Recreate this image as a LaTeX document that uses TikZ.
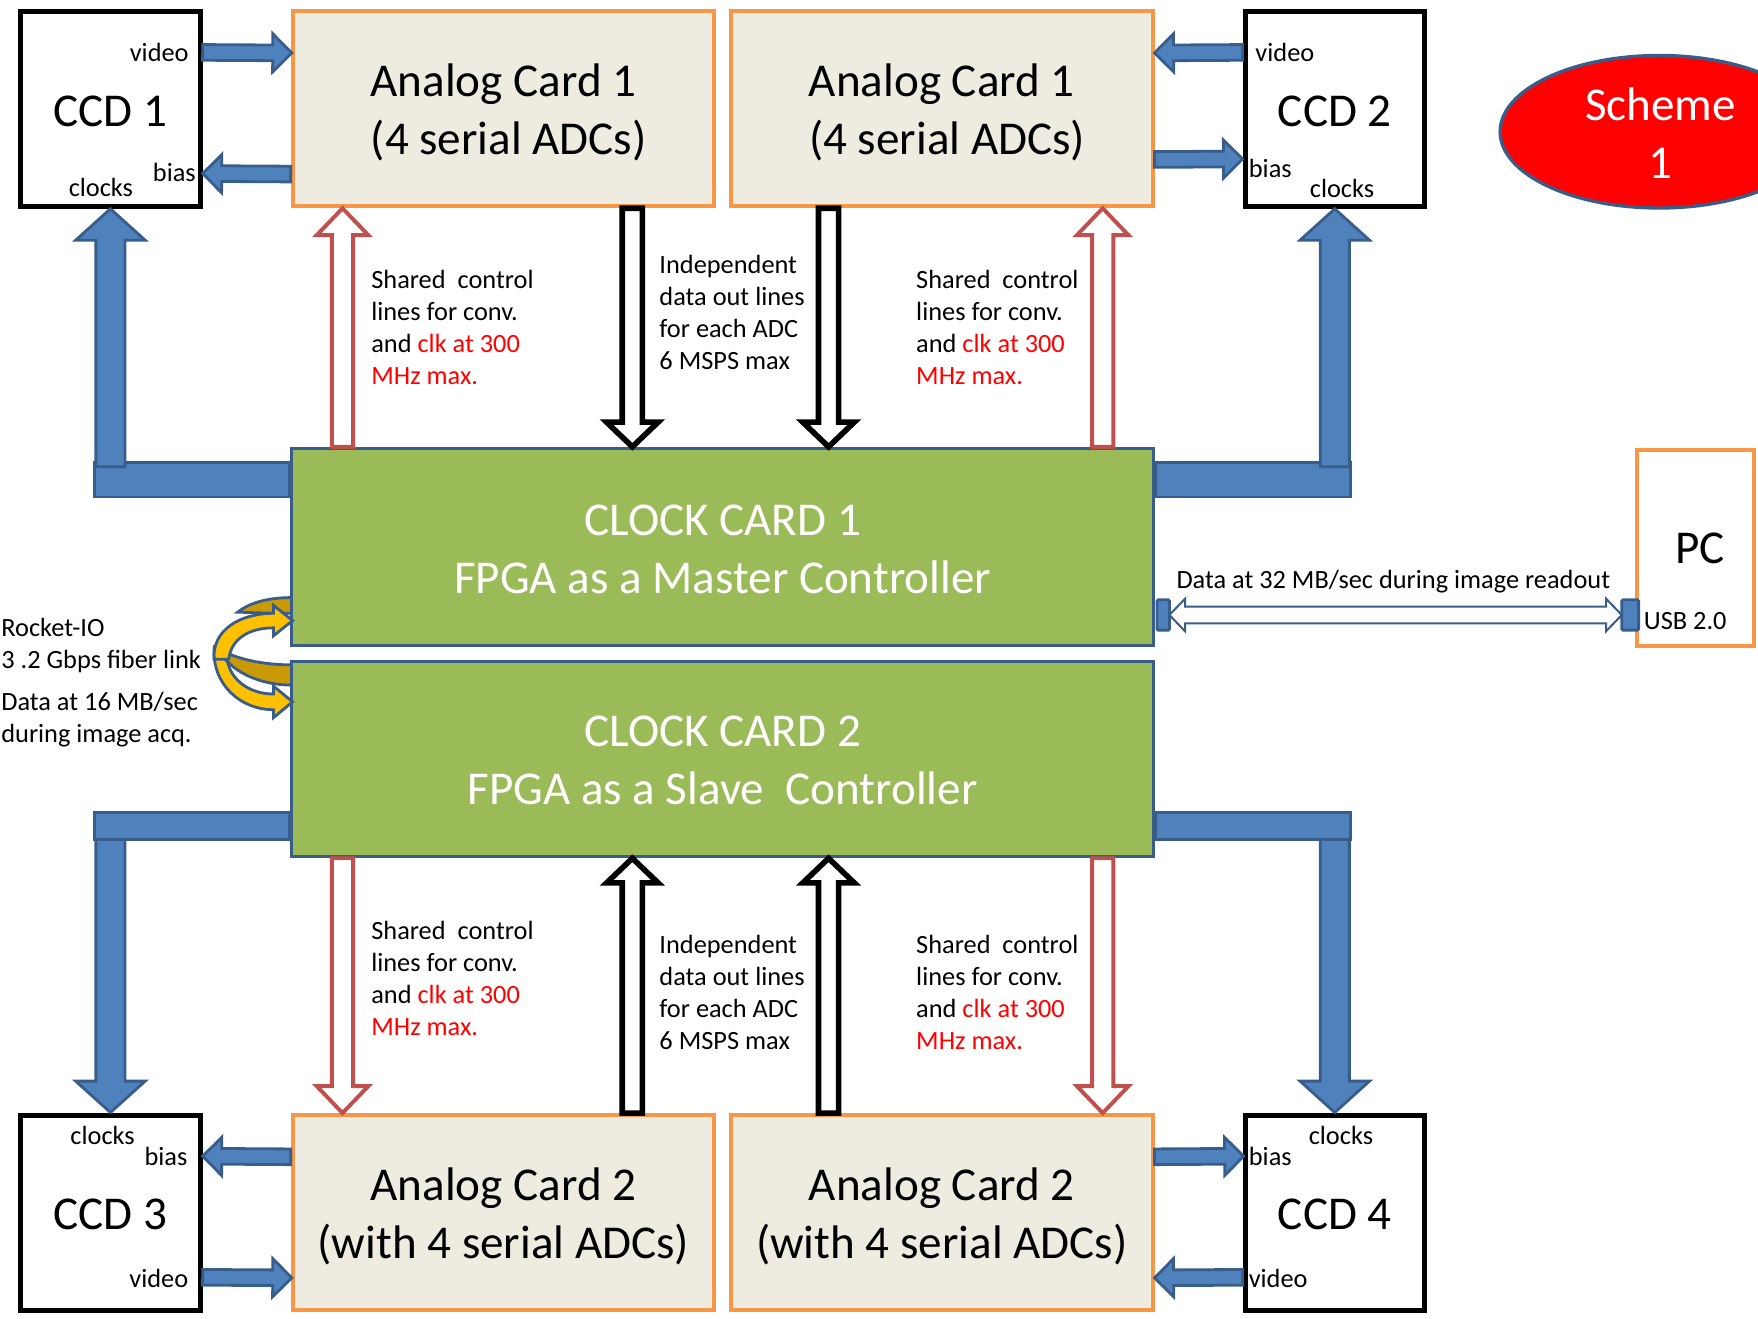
\documentclass[tikz,border=0pt]{standalone}
\usepackage{fontspec}
\setmainfont{Carlito}
\usetikzlibrary{calc,backgrounds}
\definecolor{bfill}{HTML}{4F81BD}
\definecolor{bline}{HTML}{385D8A}
\definecolor{gfill}{HTML}{9BBB59}
\definecolor{beige}{HTML}{EEECE1}
\definecolor{orng}{HTML}{F79646}
\definecolor{rline}{HTML}{C0504D}
\definecolor{yel}{HTML}{FFC000}
\definecolor{gold}{HTML}{C99A06}
\definecolor{tred}{HTML}{FF0000}
\newcommand\bigf{\fontsize{42}{52}\selectfont}
\newcommand\smf{\fontsize{23.5}{28.4}\selectfont}
% #1 style, #2 start, #3 end, #4 half shaft, #5 half head, #6 head length
\newcommand\blockarrow[6]{%
  \path #2 coordinate (baS) #3 coordinate (baE);
  \path ($(baE)!#6pt!(baS)$) coordinate (baB);
  \draw[#1] ($(baS)!#4pt!90:(baE)$) -- ($(baB)!#4pt!-90:(baS)$) -- ($(baB)!#5pt!-90:(baS)$) -- (baE)
     -- ($(baB)!#5pt!90:(baS)$) -- ($(baB)!#4pt!90:(baS)$) -- ($(baS)!#4pt!-90:(baE)$) -- cycle;
}
\begin{document}
\begin{tikzpicture}[x=1pt,y=-1pt,line join=miter,
  ccdbox/.style={draw=black,line width=4.5pt,fill=white,minimum width=160pt,minimum height=174pt,inner sep=0pt},
  anbox/.style={draw=orng,line width=3.5pt,fill=beige,minimum width=376pt,minimum height=174pt,inner sep=0pt},
  clkbox/.style={draw=bline,line width=3pt,fill=gfill,minimum width=769pt,inner sep=0pt},
  bigtxt/.style={inner sep=0pt,align=center,font=\bigf},
  lbl/.style={inner sep=0pt,font=\smf},
  note/.style={inner sep=0pt,font=\smf,align=left,anchor=west},
  bluebar/.style={draw=bline,fill=bfill,line width=2.5pt},
  redhollow/.style={draw=rline,fill=white,line width=3.5pt},
  blackhollow/.style={draw=black,fill=white,line width=5pt},
  usbsq/.style={draw=bline,fill=bfill,line width=2.5pt,minimum height=27pt,inner sep=0pt,rounded corners=1pt},
  rocket/.style={draw=bline,fill=yel,line width=2.5pt},
  rocketback/.style={draw=bline,fill=gold,line width=2.5pt}]
\useasboundingbox (0,0) rectangle (1568,1176);
\clip (0,0) rectangle (1568,1176);

% ---------- boxes ----------
\node[ccdbox] (ccd1) at (98.5,97) {};
\node[anbox] (ac1l) at (449,97) {};
\node[anbox] (ac1r) at (840,97) {};
\node[ccdbox] (ccd2) at (1190.5,97) {};
\node[clkbox,minimum height=176pt] (cc1) at (644.5,488) {};
\node[clkbox,minimum height=174pt] (cc2) at (644.5,677) {};
\node[ccdbox] (ccd3) at (98.5,1081.5) {};
\node[anbox] (ac2l) at (449,1081.5) {};
\node[anbox] (ac2r) at (840,1081.5) {};
\node[ccdbox] (ccd4) at (1190.5,1081.5) {};

\node[bigtxt] (ccd1t) at ($(ccd1)+(0,2)$) {CCD 1};
\node[bigtxt] (ccd2t) at ($(ccd2)+(0,2)$) {CCD 2};
\node[bigtxt] (ccd3t) at ($(ccd3)+(0,2)$) {CCD 3};
\node[bigtxt] (ccd4t) at ($(ccd4)+(0,2)$) {CCD 4};
\node[bigtxt] (ac1lt) at ($(ac1l)+(0,3)$) {Analog Card 1\\\hspace*{9.5pt}(4 serial ADCs)};
\node[bigtxt] (ac1rt) at ($(ac1r)+(0,3)$) {Analog Card 1\\\hspace*{9.5pt}(4 serial ADCs)};
\node[bigtxt] (ac2lt) at ($(ac2l)+(0,3.5)$) {Analog Card 2\\(with 4 serial ADCs)};
\node[bigtxt] (ac2rt) at ($(ac2r)+(0,3.5)$) {Analog Card 2\\(with 4 serial ADCs)};
\node[bigtxt,text=white] (cc1t) at ($(cc1)+(0,2)$) {CLOCK CARD 1\\FPGA as a Master Controller};
\node[bigtxt,text=white] (cc2t) at ($(cc2)+(0,1.5)$) {CLOCK CARD 2\\FPGA as a Slave\ \ Controller};

\node[draw=orng,line width=3.5pt,fill=white,minimum width=104pt,minimum height=175pt,inner sep=0pt] (pc) at (1512,488.5) {};
\node[bigtxt] (pct) at (1516,489) {PC};
\node[lbl,anchor=west] (usbt) at (1466,554) {USB 2.0};

\draw[draw=bline,fill=tred,line width=3pt] (1480,117.5) ellipse [x radius=142, y radius=68];
\node[bigtxt,text=white] (scheme) at (1481,119) {Scheme\\1};

% ---------- blue buses (behind the cards) ----------
\begin{pgfonlayer}{background}
\draw[bluebar] ($(cc1.north west)+(0,14)$) rectangle ($(ccd1.south)+(-14,257)$);
\draw[bluebar] ($(cc1.north east)+(0,14)$) rectangle ($(ccd2.south)+(14,257)$);
\draw[bluebar] ($(cc2.south west)+(0,-41)$) rectangle ($(ccd3.north)+(-14,-243.5)$);
\draw[bluebar] ($(cc2.south east)+(0,-41)$) rectangle ($(ccd4.north)+(14,-243.5)$);
\end{pgfonlayer}
\blockarrow{bluebar}{($(ccd1.south)+(0,230)$)}{(ccd1.south)}{13}{31}{28}
\blockarrow{bluebar}{($(ccd2.south)+(0,230)$)}{(ccd2.south)}{13}{31}{28}
\blockarrow{bluebar}{($(ccd3.north)+(0,-243.5)$)}{(ccd3.north)}{13}{31}{28}
\blockarrow{bluebar}{($(ccd4.north)+(0,-243.5)$)}{(ccd4.north)}{13}{31}{28}

% ---------- video / bias arrows ----------
\blockarrow{bluebar}{($(ccd1.north east)+(0,39)$)}{($(ac1l.north west)+(1,39)$)}{7}{17}{17}
\blockarrow{bluebar}{($(ac1l.north west)+(0,147)$)}{($(ccd1.north east)+(0,147)$)}{7}{17}{17}
\blockarrow{bluebar}{($(ccd2.north west)+(0,39)$)}{($(ac1r.north east)+(0,39)$)}{7}{17}{17}
\blockarrow{bluebar}{($(ac1r.north east)+(0,134)$)}{($(ccd2.north west)+(0,134)$)}{7}{17}{17}
\blockarrow{bluebar}{($(ac2l.north west)+(0,39)$)}{($(ccd3.north east)+(0,39)$)}{7}{17}{17}
\blockarrow{bluebar}{($(ccd3.north east)+(0,147)$)}{($(ac2l.north west)+(1,147)$)}{7}{17}{17}
\blockarrow{bluebar}{($(ac2r.north east)+(0,39)$)}{($(ccd4.north west)+(1,39)$)}{7}{17}{17}
\blockarrow{bluebar}{($(ccd4.north west)+(0,147)$)}{($(ac2r.north east)+(0,147)$)}{7}{17}{17}

% ---------- shared control (red) and data out (black) ----------
\coordinate (r1) at ($(cc1.north west)+(47,0)$);
\coordinate (r2) at ($(cc1.north east)+(-47,0)$);
\coordinate (r3) at ($(cc2.south west)+(47,0)$);
\coordinate (r4) at ($(cc2.south east)+(-47,0)$);
\coordinate (b1) at ($(cc1.north)+(-80.5,0)$);
\coordinate (b2) at ($(cc1.north)+(94.5,0)$);
\coordinate (b3) at ($(cc2.south)+(-80.5,0)$);
\coordinate (b4) at ($(cc2.south)+(94.5,0)$);
\blockarrow{redhollow}{(r1)}{(r1 |- ac1l.south)}{9.5}{23}{24}
\blockarrow{redhollow}{(r2)}{(r2 |- ac1r.south)}{9.5}{23}{24}
\blockarrow{redhollow}{(r3)}{(r3 |- ac2l.north)}{9.5}{23}{24}
\blockarrow{redhollow}{(r4)}{(r4 |- ac2r.north)}{9.5}{23}{24}
\blockarrow{blackhollow}{(b1 |- ac1l.south)}{(b1)}{9}{23}{22}
\blockarrow{blackhollow}{(b2 |- ac1r.south)}{(b2)}{9}{23}{22}
\blockarrow{blackhollow}{(b3 |- ac2l.north)}{(b3)}{9}{23}{22}
\blockarrow{blackhollow}{(b4 |- ac2r.north)}{(b4)}{9}{23}{22}

% ---------- USB link ----------
\coordinate (usbAc) at (1037.5,548.5);
\coordinate (usbBc) at (1454,548.5);
\draw[draw=bline,fill=white,line width=1.8pt] ($(usbAc)+(5.5,0)$) -- ++(14,-14.5) -- ++(0,7) -- ($(usbBc)+(-21.5,-7.5)$) -- ++(0,-7)
  -- ($(usbBc)+(-7.5,0)$) -- ++(-14,14.5) -- ++(0,-7) -- ($(usbAc)+(19.5,7.5)$) -- ++(0,7) -- cycle;
\node[usbsq,minimum width=11pt] (usbA) at (usbAc) {};
\node[usbsq,minimum width=15pt] (usbB) at (usbBc) {};
\node[lbl] (d32) at (1242.7,519) {Data at 32 MB/sec during image readout};

% ---------- Rocket-IO link ----------
\draw[rocketback] (260,533) .. controls (238,533) and (222,538) .. (212,546) -- (244,547) -- (260,547) -- cycle;
\draw[rocket] (191,578) .. controls (189,610) and (214,633) .. (244,633) -- (244,640) -- (261,626) -- (244,612) -- (244,619)
  .. controls (222,619) and (206,606) .. (203,590) -- cycle;
\draw[rocketback] (260,593) .. controls (235,593) and (210,588) .. (194,578) .. controls (204,598) and (230,611) .. (260,611) -- cycle;
\draw[rocket] (191,588) .. controls (189,562) and (214,547) .. (244,547) -- (244,540) -- (261,553.5) -- (244,567) -- (244,560)
  .. controls (222,560) and (206,570) .. (204,588) -- cycle;
\node[note] (rio1) at (1,576) {Rocket-IO\\3 .2 Gbps fiber link};
\node[note] (rio2) at (1,642) {Data at 16 MB/sec\\during image acq.};

% ---------- CCD labels ----------
\node[lbl] (v1) at (142,47) {video};
\node[lbl] (s1) at (155.5,154) {bias};
\node[lbl] (c1) at (90,167.5) {clocks};
\node[lbl] (v2) at (1146,47) {video};
\node[lbl] (s2) at (1133,150) {bias};
\node[lbl] (c2) at (1197,168) {clocks};
\node[lbl] (c3) at (91.5,1013) {clocks};
\node[lbl] (s3) at (148,1031.5) {bias};
\node[lbl] (v3) at (141.6,1140) {video};
\node[lbl] (c4) at (1196,1013) {clocks};
\node[lbl] (s4) at (1133,1031.5) {bias};
\node[lbl] (v4) at (1140,1140) {video};

% ---------- notes ----------
\node[note] (n1) at (331,292) {Shared\ \ control\\lines for conv.\\and \textcolor{tred}{clk at 300}\\\textcolor{tred}{MHz max.}};
\node[note] (n2) at (817,292) {Shared\ \ control\\lines for conv.\\and \textcolor{tred}{clk at 300}\\\textcolor{tred}{MHz max.}};
\node[note] (n3) at (331,872.5) {Shared\ \ control\\lines for conv.\\and \textcolor{tred}{clk at 300}\\\textcolor{tred}{MHz max.}};
\node[note] (n4) at (817,885) {Shared\ \ control\\lines for conv.\\and \textcolor{tred}{clk at 300}\\\textcolor{tred}{MHz max.}};
\node[note] (i1) at (588,278.5) {Independent\\data out lines\\for each ADC\\6 MSPS max};
\node[note] (i2) at (588,885) {Independent\\data out lines\\for each ADC\\6 MSPS max};
\end{tikzpicture}
\end{document}
